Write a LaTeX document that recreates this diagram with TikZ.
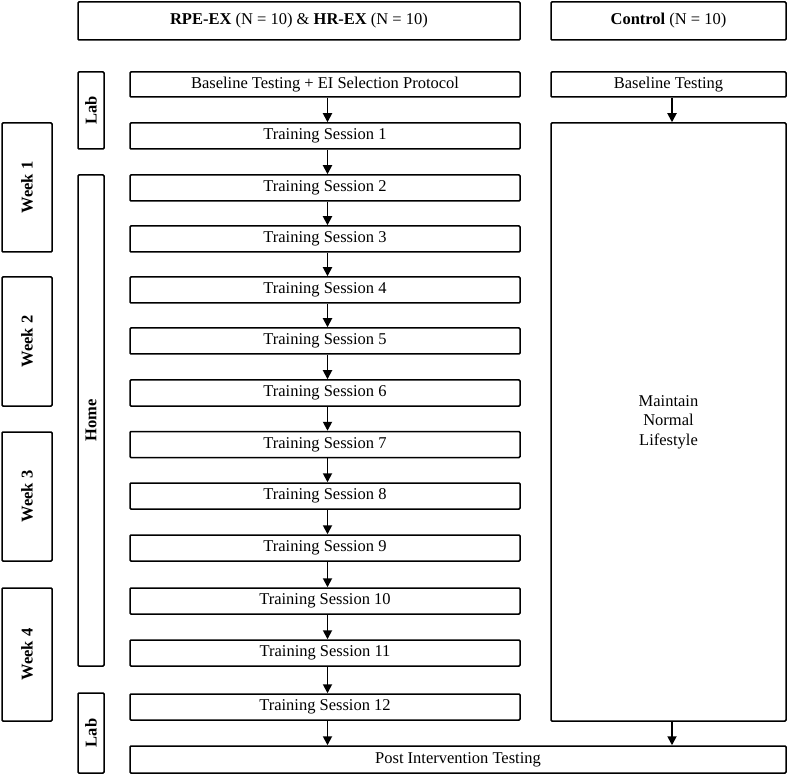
\documentclass[tikz,border=0pt]{standalone}
\usepackage{fontspec}
\setmainfont{Liberation Serif}
\usetikzlibrary{arrows.meta}
\begin{document}
\begin{tikzpicture}[x=1pt,y=-1pt,
  every node/.style={font=\fontsize{16.5}{19.5}\selectfont},
  box/.style={draw,line width=1.5pt,rounded corners=1pt,inner sep=0pt,anchor=center,align=center},
  sess/.style={box,minimum width=390pt,minimum height=26pt},
  side/.style={box,minimum width=26pt},
  wk/.style={box,minimum width=50pt},
  lbl/.style={font=\fontsize{16.5}{19.5}\selectfont\bfseries,rotate=90},
  arr/.style={line width=1.8pt,-{Triangle[length=9pt,width=9pt]}}]
\useasboundingbox (0,0) rectangle (787,775);
% headers
\node[box,minimum width=442pt,minimum height=38pt] (h1) at (299,21) {\textbf{RPE-EX} (N = 10) \& \textbf{HR-EX} (N = 10)};
\node[box,minimum width=235pt,minimum height=38pt] (h2) at (668.5,21) {\textbf{Control} (N = 10)};
% baseline
\node[box,minimum width=390pt,minimum height=25pt] (base) at (325,84.5) {Baseline Testing + EI Selection Protocol};
\node[box,minimum width=235pt,minimum height=25pt] (cbase) at (668.5,84.5) {Baseline Testing};
% sessions
\node[sess] (s1) at (325,136) {Training Session 1};
\node[sess] (s2) at (325,188) {Training Session 2};
\node[sess] (s3) at (325,239) {Training Session 3};
\node[sess] (s4) at (325,290) {Training Session 4};
\node[sess] (s5) at (325,341) {Training Session 5};
\node[sess] (s6) at (325,393) {Training Session 6};
\node[sess] (s7) at (325,444.5) {Training Session 7};
\node[sess] (s8) at (325,496) {Training Session 8};
\node[sess] (s9) at (325,548) {Training Session 9};
\node[sess] (s10) at (325,601) {Training Session 10};
\node[sess] (s11) at (325,653) {Training Session 11};
\node[sess] (s12) at (325,707) {Training Session 12};
\node[box,minimum width=656pt,minimum height=27pt] (post) at (458,759.5) {Post Intervention Testing};
% control
\node[box,minimum width=235pt,minimum height=598pt] (ctrl) at (668.5,422) {Maintain\\Normal\\Lifestyle};
% side labels
\node[side,minimum height=77pt] (lab1) at (91,110.5) {};
\node[lbl] at (lab1.center) {Lab};
\node[side,minimum height=491pt] (home) at (91,420.5) {};
\node[lbl] at (home.center) {Home};
\node[side,minimum height=80pt] (lab2) at (91,733) {};
\node[lbl] at (lab2.center) {Lab};
\node[wk,minimum height=129pt] (w1) at (27,187.5) {};
\node[lbl] at (w1.center) {Week 1};
\node[wk,minimum height=129pt] (w2) at (27,341.5) {};
\node[lbl] at (w2.center) {Week 2};
\node[wk,minimum height=129pt] (w3) at (27,496.5) {};
\node[lbl] at (w3.center) {Week 3};
\node[wk,minimum height=133pt] (w4) at (27,654.5) {};
\node[lbl] at (w4.center) {Week 4};
% arrows
\draw[arr] ([xshift=2.5pt]base.south) -- ([xshift=2.5pt]s1.north);
\foreach \a/\b in {s1/s2,s2/s3,s3/s4,s4/s5,s5/s6,s6/s7,s7/s8,s8/s9,s9/s10,s10/s11,s11/s12}
  \draw[arr] ([xshift=2.5pt]\a.south) -- ([xshift=2.5pt]\b.north);
\draw[arr] ([xshift=2.5pt]s12.south) -- ([xshift=2.5pt]s12.south |- post.north);
\draw[arr] ([xshift=3.5pt]cbase.south) -- ([xshift=3.5pt]ctrl.north);
\draw[arr] ([xshift=3.5pt]ctrl.south) -- ([xshift=3.5pt]ctrl.south |- post.north);
\end{tikzpicture}
\end{document}
